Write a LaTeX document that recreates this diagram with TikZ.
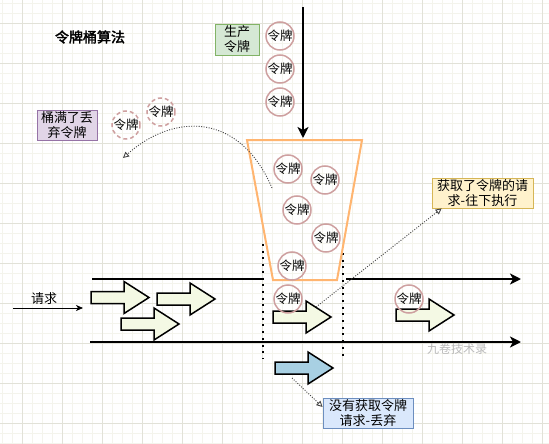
\documentclass[tikz,border=0pt]{standalone}
\usepackage{fontspec}
\newfontfamily\cjk{Noto Sans CJK SC}
\newfontfamily\cjkbold[FakeBold=2.5]{Noto Sans CJK SC}
\usetikzlibrary{arrows.meta,calc}
\definecolor{gridminor}{RGB}{244,244,236}
\definecolor{gridmajor}{RGB}{226,226,216}
\definecolor{tokenc}{RGB}{206,160,160}
\definecolor{bucketc}{RGB}{255,181,112}
\definecolor{arrfill}{RGB}{244,249,228}
\definecolor{arrblue}{RGB}{168,208,227}
\definecolor{greenf}{RGB}{213,232,212}
\definecolor{greend}{RGB}{130,179,102}
\definecolor{purplef}{RGB}{225,213,231}
\definecolor{purpled}{RGB}{150,115,166}
\definecolor{yellowf}{RGB}{255,242,204}
\definecolor{yellowd}{RGB}{214,182,86}
\definecolor{bluef}{RGB}{218,232,252}
\definecolor{blued}{RGB}{108,142,191}
\definecolor{wmark}{RGB}{185,185,185}
\definecolor{dotc}{RGB}{70,70,70}
\newcommand\myBlockArrow[4]{%
  \draw[blockarr, fill=#4] (#2,#3) ++(0,-6) -- ++(33,0) -- ++(0,-10) -- ++(25,16) -- ++(-25,16) -- ++(0,-10) -- ++(-33,0) -- cycle;
  \coordinate (#1) at (#2+29,#3);}
\begin{document}
\begin{tikzpicture}[x=1pt,y=-1pt,
  token/.style={circle, draw=tokenc, line width=1.5pt, minimum size=28pt, inner sep=0pt, font=\cjk\fontsize{12.5}{13}\selectfont},
  dtoken/.style={token, dash pattern=on 4pt off 3pt},
  infobox/.style={draw, line width=0.8pt, inner sep=0pt, align=center, font=\cjk\fontsize{13}{15}\selectfont},
  blockarr/.style={draw=black, line width=1.5pt, line join=miter},
  mainline/.style={line width=2pt, black},
  mainarrow/.style={mainline, -{Stealth[length=11pt, width=11pt, inset=3pt]}},
  dotsep/.style={line width=2pt, dash pattern=on 2pt off 4.7pt},
  note/.style={dotc, line width=0.9pt, dash pattern=on 1pt off 1.5pt, -{Triangle[open, length=6pt, width=6pt]}},
  lbl/.style={font=\cjk\fontsize{13}{15}\selectfont}
]
\useasboundingbox (0,0) rectangle (549,444);
\fill[white] (0,0) rectangle (549,444);
% grid
\foreach \x in {2,12,...,542} \draw[gridminor, line width=0.8pt] (\x,0) -- (\x,444);
\foreach \y in {3,13,...,443} \draw[gridminor, line width=0.8pt] (0,\y) -- (549,\y);
\foreach \x in {22,62,...,542} \draw[gridmajor, line width=0.8pt] (\x,0) -- (\x,444);
\foreach \y in {23,63,...,423} \draw[gridmajor, line width=0.8pt] (0,\y) -- (549,\y);

% title
\node[font=\cjkbold\fontsize{14}{16}\selectfont] (title) at (90,37) {令牌桶算法};

% production box
\node[infobox, draw=greend, fill=greenf, minimum width=44pt, minimum height=31pt] (prod) at (237,39.5) {生产\\令牌};

% tokens produced
\node[token] (p1) at (280,36) {令牌};
\node[token] (p2) at (280,69) {令牌};
\node[token] (p3) at (280,102) {令牌};

% vertical arrow
\coordinate (vtop) at (303,7);
\coordinate (vbot) at (303,138);
\draw[mainarrow] (vtop) -- (vbot);

% full bucket box and discarded tokens
\node[infobox, draw=purpled, fill=purplef, minimum width=60pt, minimum height=30pt] (full) at (67,125) {桶满了丢\\弃令牌};
\node[dtoken] (d1) at (126,125) {令牌};
\node[dtoken] (d2) at (161,112) {令牌};

% horizontal lines
\coordinate (l1a) at (92,279);
\coordinate (l1b) at (262,279);
\coordinate (l1c) at (346,279);
\coordinate (l1d) at (521,279);
\coordinate (l2a) at (90,342);
\coordinate (l2b) at (521,342);
\draw[mainline] (l1a) -- (l1b);
\draw[mainarrow] (l1c) -- (l1d);
\draw[mainarrow] (l2a) -- (l2b);

% dotted gate lines
\coordinate (g1a) at (263,244);
\coordinate (g1b) at (263,358);
\coordinate (g2a) at (343,253);
\coordinate (g2b) at (343,358);
\draw[dotsep] (g1a) -- (g1b);
\draw[dotsep] (g2a) -- (g2b);

% bucket
\draw[bucketc, line width=2pt, line join=miter] (247,140) -- (362,140) -- (337,280) -- (273,280) -- cycle;

% block arrows
\myBlockArrow{a1}{91}{297.5}{arrfill}
\myBlockArrow{a2}{157}{299}{arrfill}
\myBlockArrow{a3}{121}{324}{arrfill}
\myBlockArrow{a4}{273}{317}{arrfill}
\myBlockArrow{a5}{396}{315}{arrfill}
\myBlockArrow{a6}{275}{368}{arrblue}

% tokens in bucket
\node[token] (b1) at (288,169) {令牌};
\node[token] (b2) at (325,180) {令牌};
\node[token] (b3) at (297,210) {令牌};
\node[token] (b4) at (326,238) {令牌};
\node[token] (b5) at (292,266) {令牌};
\node[token] (t1) at (288,299) {令牌};
\node[token] (t2) at (409,299) {令牌};

% request label
\node[lbl] (req) at (44,299) {请求};
\coordinate (rqa) at (13,308);
\coordinate (rqb) at (83,308);
\draw[line width=0.8pt, -{Stealth[length=7pt, width=6pt, inset=2pt]}] (rqa) -- (rqb);

% watermark
\node[font=\cjk\fontsize{12}{14}\selectfont, text=wmark] (wm) at (457,349) {九卷技术录};

% result boxes
\node[infobox, draw=yellowd, fill=yellowf, minimum width=101pt, minimum height=30pt] (ok) at (482.5,193) {获取了令牌的请\\求-往下执行};
\node[infobox, draw=blued, fill=bluef, minimum width=90pt, minimum height=30pt] (drop) at (368,413) {没有获取令牌\\请求-丢弃};

% connectors
\coordinate (cs) at (272,188);
\coordinate (ce) at (123,158);
\draw[note] (cs) .. controls (240,113) and (175,112) .. (ce);
\coordinate (a4s) at (316,307);
\draw[note] (a4s) -- ($(ok.south west)+(10,0)$);
\coordinate (a6s) at (292,378);
\draw[note] (a6s) -- ($(drop.west)+(0,-6)$);
\end{tikzpicture}
\end{document}
